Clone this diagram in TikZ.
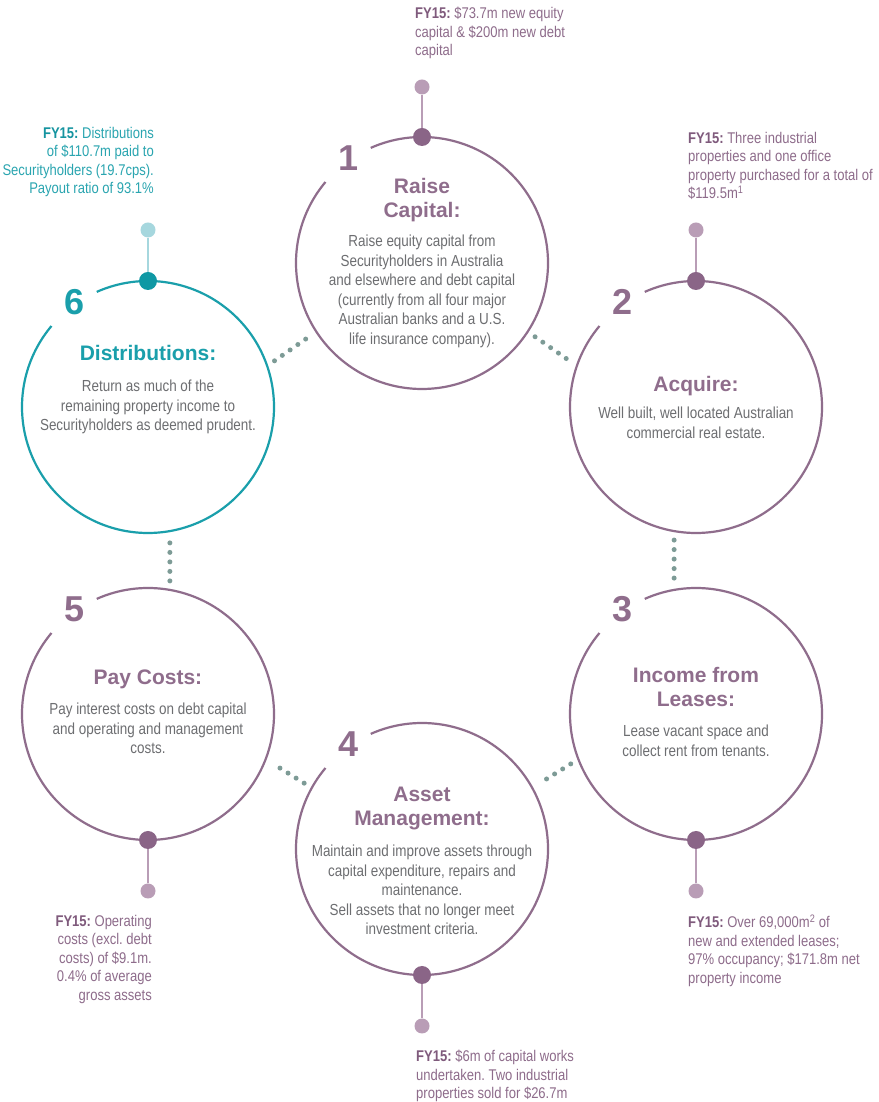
\documentclass[tikz,border=0pt]{standalone}
\usepackage{fontspec}
\setmainfont{Liberation Sans}
\newfontfamily\narrowfont[FakeStretch=0.84]{Liberation Sans}
\usetikzlibrary{positioning}
\frenchspacing
\definecolor{plum}{HTML}{8F6D8C}
\definecolor{plumdark}{HTML}{8A6587}
\definecolor{plumlight}{HTML}{B99DB6}
\definecolor{plumtext}{HTML}{8E6C8B}
\definecolor{plumbold}{HTML}{7F5A7C}
\definecolor{sea}{HTML}{1A9FAB}
\definecolor{seadark}{HTML}{0F98A4}
\definecolor{sealight}{HTML}{A6D7DE}
\definecolor{seatext}{HTML}{2AA5B0}
\definecolor{seabold}{HTML}{1594A0}
\definecolor{bodygrey}{HTML}{6D6E71}
\definecolor{dotgreen}{HTML}{7D9B96}
\newcommand{\fy}[1]{{\bfseries\color{#1}FY15:}}
\begin{document}
\begin{tikzpicture}[x=1pt, y=1pt,
  ring/.style={circle, minimum size=252pt, inner sep=0pt, outer sep=0pt},
  rim/.style={line width=2.2pt},
  bigdot/.style={circle, fill, minimum size=18pt, inner sep=0pt},
  smalldot/.style={circle, fill, minimum size=15pt, inner sep=0pt},
  stem/.style={line width=2pt},
  link/.style={dotgreen, line width=5pt, line cap=round, dash pattern=on 0pt off 9.5pt, shorten >=9pt, shorten <=9pt},
  num/.style={inner sep=0pt, font=\fontsize{36}{36}\selectfont\bfseries},
  head/.style={anchor=north, align=center, inner sep=0pt, font=\fontsize{21}{24}\selectfont\bfseries},
  body/.style={anchor=north, align=center, inner sep=0pt, text=bodygrey, font=\narrowfont\fontsize{16}{19.5}\selectfont},
  fact/.style={inner sep=0pt, font=\narrowfont\fontsize{15.5}{18.5}\selectfont}]
\fill[white] (0,0) rectangle (878,1102);
\useasboundingbox (0,0) rectangle (878,1102);

% the six rings
\node[ring] (c1) at (422,839) {};
\node[ring] (c2) at (696,695) {};
\node[ring] (c3) at (696,388) {};
\node[ring] (c4) at (422,253) {};
\node[ring] (c5) at (148,388) {};
\node[ring] (c6) at (148,695) {};
\draw[rim, plum] (c1.140) arc[start angle=140, end angle=474, radius=126];
\draw[rim, plum] (c2.140) arc[start angle=140, end angle=474, radius=126];
\draw[rim, plum] (c3.140) arc[start angle=140, end angle=474, radius=126];
\draw[rim, plum] (c4.140) arc[start angle=140, end angle=474, radius=126];
\draw[rim, plum] (c5.140) arc[start angle=140, end angle=474, radius=126];
\draw[rim, sea] (c6.140) arc[start angle=140, end angle=474, radius=126];

% dotted links
\draw[link] (c6.19) -- (c1.213);
\draw[link] (c1.327) -- (c2.161);
\draw[link] (c2.260) -- (c3.100);
\draw[link] (c3.201) -- (c4.29);
\draw[link] (c4.151) -- (c5.339);
\draw[link] (c5.80) -- (c6.280);

% pins
\node[bigdot, plumdark] (d1) at (c1.north) {};
\node[bigdot, plumdark] (d2) at (c2.north) {};
\node[bigdot, plumdark] (d3) at (c3.south) {};
\node[bigdot, plumdark] (d4) at (c4.south) {};
\node[bigdot, plumdark] (d5) at (c5.south) {};
\node[bigdot, seadark] (d6) at (c6.north) {};
\node[smalldot, plumlight] (p1) at ([yshift=50pt]c1.north) {};
\node[smalldot, plumlight] (p2) at ([yshift=51pt]c2.north) {};
\node[smalldot, plumlight] (p3) at ([yshift=-51pt]c3.south) {};
\node[smalldot, plumlight] (p4) at ([yshift=-51pt]c4.south) {};
\node[smalldot, plumlight] (p5) at ([yshift=-51pt]c5.south) {};
\node[smalldot, sealight] (p6) at ([yshift=51pt]c6.north) {};
\draw[stem, plumlight] (p1) -- (d1);
\draw[stem, plumlight] (p2) -- (d2);
\draw[stem, plumlight] (p3) -- (d3);
\draw[stem, plumlight] (p4) -- (d4);
\draw[stem, plumlight] (p5) -- (d5);
\draw[stem, sealight] (p6) -- (d6);

% numbers
\node[num, plum] (n1) at (349,944) {1};
\node[num, plum] (n2) at (623,800) {2};
\node[num, plum] (n3) at (623,493) {3};
\node[num, plum] (n4) at (349,358) {4};
\node[num, plum] (n5) at (75,493) {5};
\node[num, sea] (n6) at (75,800) {6};

% headings
\node[head, plum] (t1) at (422,924) {Raise\\Capital:};
\node[head, plum] (t2) at (696,726) {Acquire:};
\node[head, plum] (t3) at (696,435) {Income from\\Leases:};
\node[head, plum] (t4) at (422,315) {Asset\\Management:};
\node[head, plum] (t5) at (148,432) {Pay Costs:};
\node[head, sea] (t6) at (148,757) {Distributions:};

% body texts
\node[body] (b1) at (422,867) {Raise equity capital from\\Securityholders in Australia\\and elsewhere and debt capital\\(currently from all four major\\Australian banks and a U.S.\\life insurance company).};
\node[body] (b2) at (696,695) {Well built, well located Australian\\commercial real estate.};
\node[body] (b3) at (696,377) {Lease vacant space and\\collect rent from tenants.};
\node[body] (b4) at (422,257) {Maintain and improve assets through\\capital expenditure, repairs and\\maintenance.\\Sell assets that no longer meet\\investment criteria.};
\node[body] (b5) at (148,399) {Pay interest costs on debt capital\\and operating and management\\costs.};
\node[body] (b6) at (148,722) {Return as much of the\\remaining property income to\\Securityholders as deemed prudent.};

% FY15 facts
\node[fact, plumtext, anchor=north west, align=left] (f1) at (415,1095) {\fy{plumbold} \$73.7m new equity\\capital \& \$200m new debt\\capital};
\node[fact, plumtext, anchor=north west, align=left] (f2) at (688,970) {\fy{plumbold} Three industrial\\properties and one office\\property purchased for a total of\\\$119.5m\textsuperscript{1}};
\node[fact, plumtext, anchor=north west, align=left] (f3) at (688,187) {\fy{plumbold} Over 69,000m\textsuperscript{2} of\\new and extended leases;\\97\% occupancy; \$171.8m net\\property income};
\node[fact, plumtext, anchor=north west, align=left] (f4) at (416,52) {\fy{plumbold} \$6m of capital works\\undertaken. Two industrial\\properties sold for \$26.7m};
\node[fact, plumtext, anchor=north east, align=right] (f5) at (152,187) {\fy{plumbold} Operating\\costs (excl. debt\\costs) of \$9.1m.\\0.4\% of average\\gross assets};
\node[fact, seatext, anchor=north east, align=right] (f6) at (154,975) {\fy{seabold} Distributions\\of \$110.7m paid to\\Securityholders (19.7cps).\\Payout ratio of 93.1\%};
\end{tikzpicture}
\end{document}
